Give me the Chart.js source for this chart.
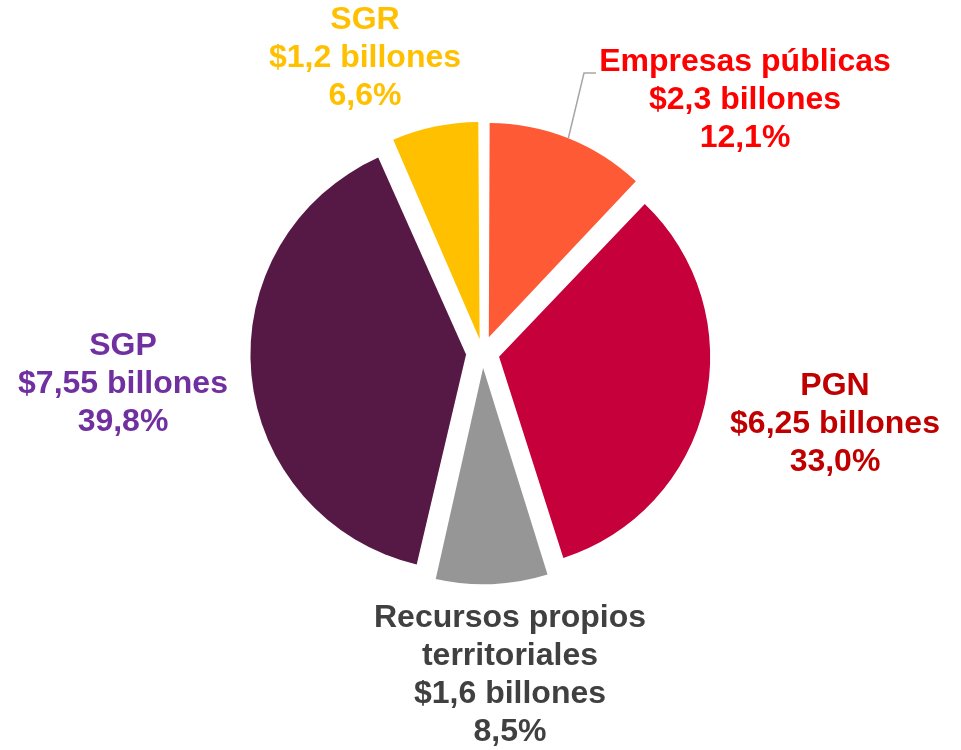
<!DOCTYPE html>
<html>
<head>
<meta charset="utf-8">
<script src="https://cdn.jsdelivr.net/npm/chart.js@4/dist/chart.umd.min.js"></script>
<style>
  body { margin: 0; background: #fff; }
  #wrap { width: 961px; height: 750px; }
</style>
</head>
<body>
<div id="wrap"><canvas id="pie"></canvas></div>
<script>
// datos del grafico (orden horario desde las 12)
const categorias = [["Empresas públicas"], ["PGN"], ["Recursos propios", "territoriales"], ["SGP"], ["SGR"]];
const billones = [2.3, 6.25, 1.6, 7.55, 1.2];
const porcentajes = [12.1, 33.0, 8.5, 39.8, 6.6];

// estilos
const colores = ["#FF5A36", "#C5003B", "#969696", "#561845", "#FFC000"];
const coloresTexto = ["#FF0000", "#C00000", "#404040", "#7030A0", "#FFC000"];
// Chart.js desplaza cada sector offset/4 px
const desplazamientos = [68, 68, 60, 66, 56];
// centro x y centro y de la primera linea de cada etiqueta
const posEtiquetas = [[745, 62], [835, 386], [510, 618], [123, 346], [365, 20]];

function fmt(v) {
  return String(v).replace(".", ",");
}

const etiquetasPlugin = {
  id: "etiquetas",
  afterDraw(chart) {
    const ctx = chart.ctx;
    const meta = chart.getDatasetMeta(0);
    ctx.save();
    // linea guia de Empresas publicas (sale del borde del sector)
    const arc = meta.data[0];
    const mid = (arc.startAngle + arc.endAngle) / 2;
    const t = desplazamientos[0] / 4;
    const fix = 1 - Math.sin(Math.min(Math.PI, arc.endAngle - arc.startAngle));
    const r = arc.outerRadius + t * fix;
    const x0 = arc.x + Math.cos(mid) * (t + r);
    const y0 = arc.y + Math.sin(mid) * (t + r);
    ctx.strokeStyle = "#A6A6A6";
    ctx.lineWidth = 1.5;
    ctx.beginPath();
    ctx.moveTo(x0, y0);
    ctx.lineTo(584, 73);
    ctx.lineTo(596, 73);
    ctx.stroke();

    ctx.font = "bold 32px 'Liberation Sans', Arial, sans-serif";
    ctx.textAlign = "center";
    ctx.textBaseline = "middle";
    categorias.forEach((cat, i) => {
      const lineas = cat.concat(["$" + fmt(billones[i]) + " billones", porcentajes[i].toFixed(1).replace(".", ",") + "%"]);
      ctx.fillStyle = coloresTexto[i];
      lineas.forEach((txt, j) => {
        ctx.fillText(txt, posEtiquetas[i][0], posEtiquetas[i][1] + j * 38);
      });
    });
    ctx.restore();
  }
};

new Chart(document.getElementById("pie"), {
  type: "pie",
  data: {
    labels: categorias.map(c => c.join(" ")),
    datasets: [{
      data: porcentajes,
      backgroundColor: colores,
      borderWidth: 0,
      offset: desplazamientos,
      hoverOffset: 0
    }]
  },
  options: {
    responsive: true,
    maintainAspectRatio: false,
    animation: false,
    events: [],
    radius: 209,
    layout: { padding: { left: 4, right: 0, top: 0, bottom: 44 } },
    plugins: {
      legend: { display: false },
      tooltip: { enabled: false }
    }
  },
  plugins: [etiquetasPlugin]
});
</script>
</body>
</html>
